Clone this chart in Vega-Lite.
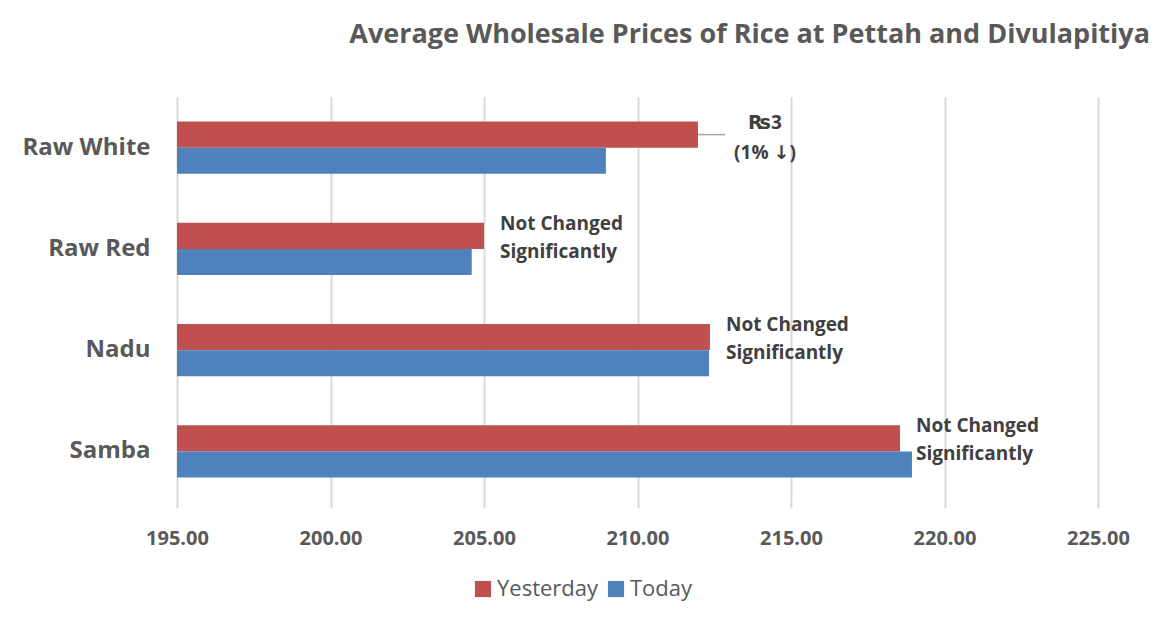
{
  "$schema": "https://vega.github.io/schema/vega-lite/v6.json",
  "autosize": {"type": "none"},
  "width": 921,
  "height": 405,
  "padding": {"left": 177, "top": 97, "right": 67, "bottom": 124},
  "background": "white",
  "title": {
    "text": "Average Wholesale Prices of Rice at Pettah and Divulapitiya",
    "anchor": "end",
    "frame": "group",
    "dx": 52,
    "offset": 48,
    "font": "Open Sans",
    "fontSize": 27,
    "fontWeight": "bold",
    "color": "#595959"
  },
  "datasets": {
    "prices": [
      {"category": "Raw White", "series": "Yesterday", "value": 211.97},
      {"category": "Raw White", "series": "Today", "value": 208.97},
      {"category": "Raw Red", "series": "Yesterday", "value": 205.0},
      {"category": "Raw Red", "series": "Today", "value": 204.6},
      {"category": "Nadu", "series": "Yesterday", "value": 212.36},
      {"category": "Nadu", "series": "Today", "value": 212.33},
      {"category": "Samba", "series": "Yesterday", "value": 218.55},
      {"category": "Samba", "series": "Today", "value": 218.94}
    ],
    "notes": [
      {"category": "Raw White", "value": 211.97, "end": 212.85, "label": ["₨3", "(1% ↓)"]},
      {"category": "Raw Red", "value": 205.0, "end": 205.0, "label": ["Not Changed", "Significantly"]},
      {"category": "Nadu", "value": 212.36, "end": 212.36, "label": ["Not Changed", "Significantly"]},
      {"category": "Samba", "value": 218.55, "end": 218.55, "label": ["Not Changed", "Significantly"]}
    ]
  },
  "encoding": {
    "y": {
      "field": "category",
      "type": "nominal",
      "sort": ["Raw White", "Raw Red", "Nadu", "Samba"],
      "scale": {"paddingInner": 0.486, "paddingOuter": 0.243},
      "axis": {
        "title": null,
        "ticks": false,
        "domain": false,
        "labelFont": "Open Sans",
        "labelFontSize": 24,
        "labelFontWeight": "bold",
        "labelColor": "#595959",
        "labelPadding": 27
      }
    }
  },
  "layer": [
    {
      "data": {"name": "prices"},
      "mark": {"type": "bar", "clip": true},
      "encoding": {
        "x": {
          "field": "value",
          "type": "quantitative",
          "scale": {"domain": [195, 225], "nice": false, "zero": false},
          "axis": {
            "title": null,
            "values": [195, 200, 205, 210, 215, 220, 225],
            "format": ".2f",
            "grid": true,
            "gridColor": "#D9D9D9",
            "gridWidth": 2,
            "domain": false,
            "ticks": true,
            "tickSize": 6,
            "tickColor": "#D9D9D9",
            "tickWidth": 2,
            "labelFlush": false,
            "labelAlign": "center",
            "labelFont": "Open Sans",
            "labelFontSize": 20,
            "labelFontWeight": "bold",
            "labelColor": "#595959",
            "labelPadding": 20
          }
        },
        "yOffset": {"field": "series", "type": "nominal", "sort": ["Yesterday", "Today"], "scale": {"paddingInner": 0}},
        "color": {
          "field": "series",
          "type": "nominal",
          "sort": ["Yesterday", "Today"],
          "scale": {"domain": ["Yesterday", "Today"], "range": ["#C0504D", "#4F81BD"]},
          "legend": {
            "title": null,
            "orient": "none",
            "legendX": 295,
            "legendY": 481,
            "direction": "horizontal",
            "symbolType": "square",
            "symbolSize": 260,
            "symbolStrokeWidth": 0,
            "labelFont": "Open Sans",
            "labelFontSize": 22,
            "labelColor": "#595959",
            "columnPadding": 6,
            "labelOffset": 3
          }
        }
      }
    },
    {
      "data": {"name": "notes"},
      "transform": [{"filter": "datum.category === 'Raw White'"}],
      "mark": {"type": "rule", "color": "#A6A6A6", "strokeWidth": 1.5, "yOffset": -13},
      "encoding": {
        "x": {"field": "value", "type": "quantitative"},
        "x2": {"field": "end"}
      }
    },
    {
      "data": {"name": "notes"},
      "transform": [{"filter": "datum.category === 'Raw White'"}],
      "mark": {"type": "text", "align": "center", "baseline": "middle", "dx": 67, "dy": -25, "lineHeight": 30, "font": "'Open Sans', 'DejaVu Sans'", "fontSize": 19, "fontWeight": "bold", "color": "#404040"},
      "encoding": {
        "x": {"field": "value", "type": "quantitative"},
        "text": {"field": "label"}
      }
    },
    {
      "data": {"name": "notes"},
      "transform": [{"filter": "datum.category !== 'Raw White'"}],
      "mark": {"type": "text", "align": "left", "baseline": "middle", "dx": 16, "dy": -25, "lineHeight": 28, "font": "Open Sans", "fontSize": 19, "fontWeight": "bold", "color": "#404040"},
      "encoding": {
        "x": {"field": "value", "type": "quantitative"},
        "text": {"field": "label"}
      }
    }
  ],
  "config": {"view": {"stroke": null}}
}
